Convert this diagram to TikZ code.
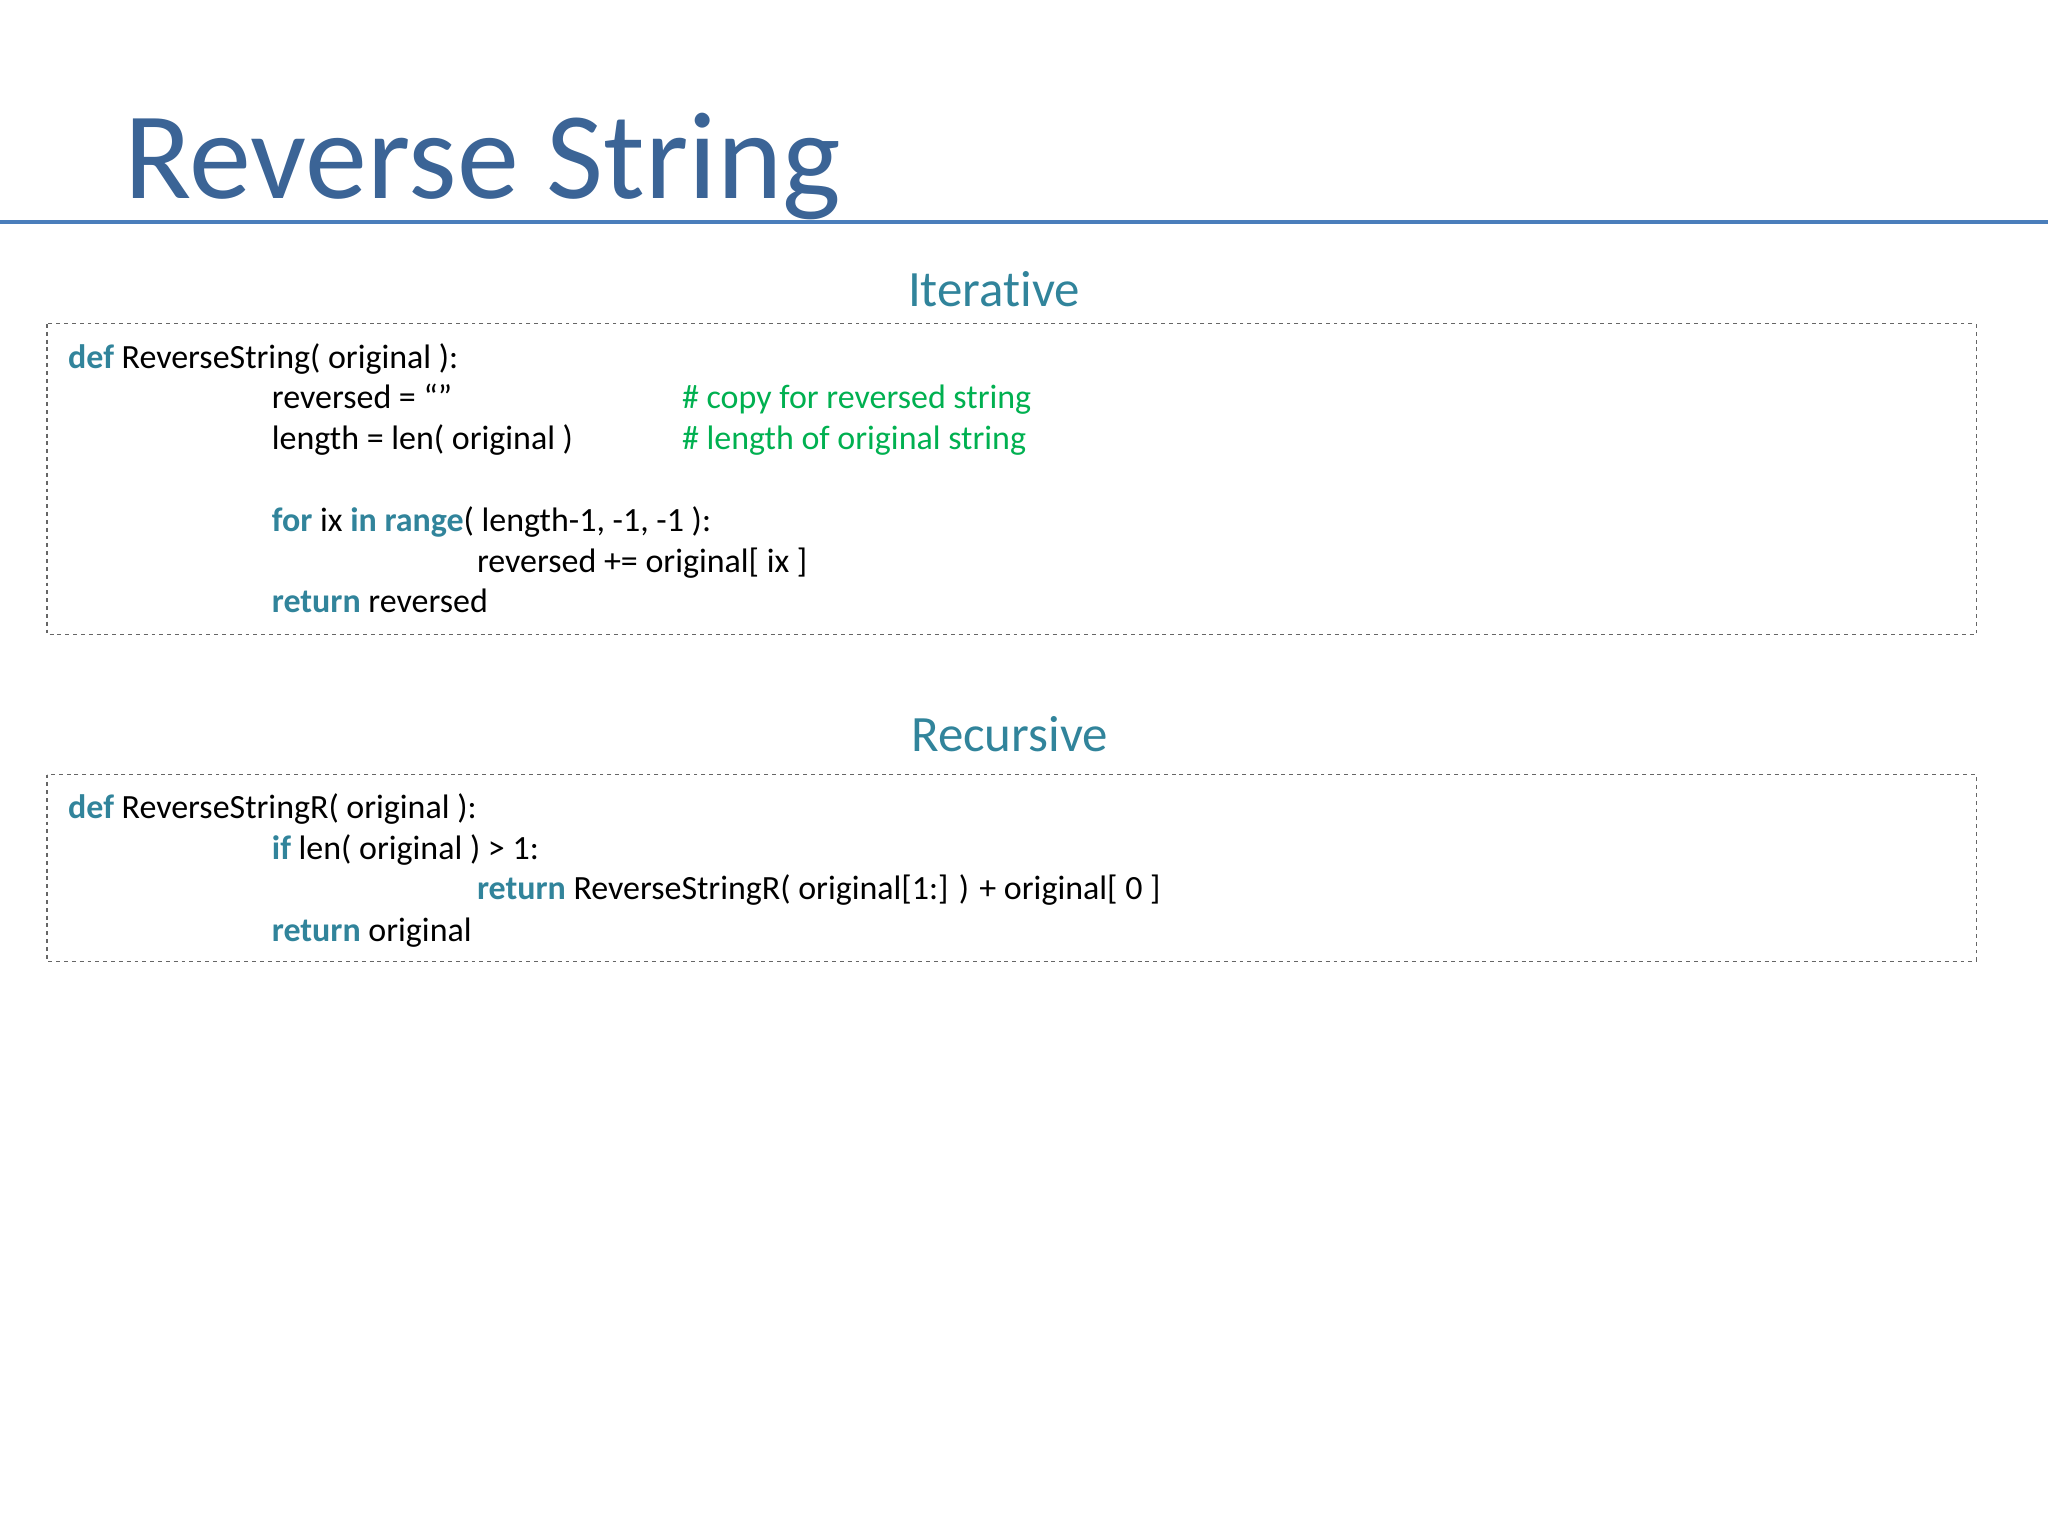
\documentclass[tikz,border=0pt]{standalone}
\usepackage{fontspec}
\setmainfont[Ligatures={NoCommon,NoRare,NoDiscretionary}]{Carlito}
\definecolor{titleblue}{HTML}{3B6496}
\definecolor{rule}{HTML}{4A7EBB}
\definecolor{teal}{HTML}{31849B}
\definecolor{cgreen}{HTML}{00B050}
\begin{document}
\begin{tikzpicture}[x=1pt,y=-1pt,
  code/.style={anchor=base west,inner sep=0pt,font=\fontsize{26}{30}\selectfont},
  head/.style={anchor=base,inner sep=0pt,text=teal,font=\fontsize{39}{44}\selectfont},
  codebox/.style={draw=black!60,dashed,line width=0.8pt}]
\useasboundingbox (0,0) rectangle (1568,1176);
\newcommand{\kw}[1]{\textcolor{teal}{\textbf{#1}}}
\node[anchor=base west,inner sep=0pt,text=titleblue,font=\fontsize{95}{104}\selectfont] (title) at (95,152) {Reverse String};
\coordinate (rl) at (0,170); \coordinate (rr) at (1568,170);
\draw[rule,line width=2.5pt] (rl) -- (rr);
\node[head] (h1) at (761,235) {Iterative};
\draw[codebox] (36,248) rectangle (1513,486);
\node[code] (a1) at (52,282) {\kw{def} ReverseString( original ):};
\node[code] (a2) at (208,313) {reversed = “”};
\node[code,text=cgreen] (c1) at (522,313) {\# copy for reversed string};
\node[code] (a3) at (208,344) {length = len( original )};
\node[code,text=cgreen] (c2) at (522,344) {\# length of original string};
\node[code] (a4) at (208,407) {\kw{for} ix \kw{in} \kw{range}( length-1, -1, -1 ):};
\node[code] (a5) at (365,438) {reversed += original[ ix ]};
\node[code] (a6) at (208,469) {\kw{return} reversed};
\node[head] (h2) at (773,575) {Recursive};
\draw[codebox] (36,593) rectangle (1513,736);
\node[code] (b1) at (52,627) {\kw{def} ReverseStringR( original ):};
\node[code] (b2) at (208,658) {\kw{if} len( original ) > 1:};
\node[code] (b3) at (365,689) {\kw{return} ReverseStringR( original[1:] ) + original[ 0 ]};
\node[code] (b4) at (208,721) {\kw{return} original};
\end{tikzpicture}
\end{document}
